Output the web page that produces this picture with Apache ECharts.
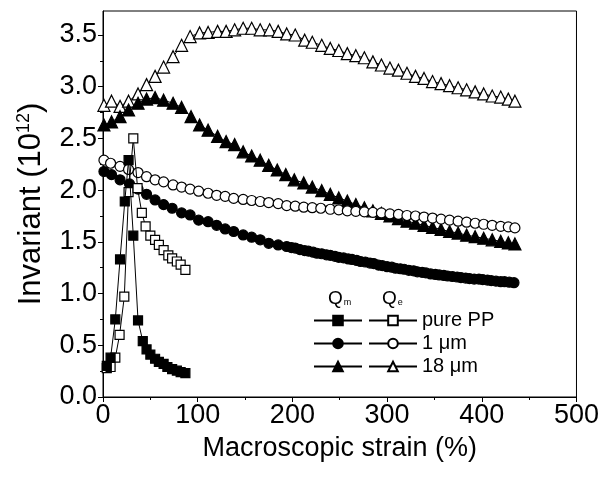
<!DOCTYPE html>
<html><head><meta charset="utf-8">
<script src="https://cdn.jsdelivr.net/npm/echarts@6/dist/echarts.min.js"></script>
<style>html,body{margin:0;padding:0;background:#fff}#c{width:602px;height:477px}</style>
</head><body><div id="c"></div><script>
// ---- data ----
const xTickLabels = [0, 100, 200, 300, 400, 500];
const yTickLabels = [0.0, 0.5, 1.0, 1.5, 2.0, 2.5, 3.0, 3.5];
const legendNames = ['pure PP', '1 \u03bcm', '18 \u03bcm'];

const qmPPx = [4, 8, 13, 18, 23, 27, 32, 37, 42, 46, 50, 55, 59, 64, 68, 73, 78, 82, 87];
const qmPPy = [0.30, 0.38, 0.75, 1.33, 1.89, 2.29, 1.56, 0.74, 0.54, 0.46, 0.41, 0.37, 0.34, 0.32, 0.29, 0.27, 0.255, 0.24, 0.23];

const qePPx = [4, 8, 13, 17.5, 22.5, 27, 32, 36.5, 41, 45, 50, 55, 59, 64, 69, 73, 78, 82, 87];
const qePPy = [0.28, 0.29, 0.38, 0.60, 0.97, 1.98, 2.50, 2.02, 1.78, 1.65, 1.56, 1.52, 1.47, 1.42, 1.37, 1.34, 1.31, 1.28, 1.23];

const qm1x = [1, 9, 18, 28, 37, 46, 55, 64, 73, 83, 92, 101, 111, 120, 129, 138, 148, 157, 166, 175, 185, 194,
  199, 203, 208, 213, 217, 222, 226, 231, 236, 240, 245, 249, 254, 259, 263, 268, 272, 277, 282, 286, 291, 295,
  300, 305, 309, 314, 318, 323, 328, 332, 337, 341, 346, 351, 355, 360, 364, 369, 374, 378, 383, 387, 392, 397,
  401, 406, 410, 415, 420, 424, 429, 434];
const qm1y = [2.18, 2.15, 2.10, 2.06, 2.01, 1.96, 1.905, 1.86, 1.825, 1.78, 1.76, 1.71, 1.695, 1.66, 1.625, 1.60, 1.567, 1.545, 1.52, 1.486, 1.47, 1.455,
  1.445, 1.44, 1.425, 1.415, 1.41, 1.40, 1.39, 1.385, 1.375, 1.37, 1.36, 1.35, 1.345, 1.335, 1.33, 1.32, 1.31, 1.305, 1.295, 1.29, 1.275, 1.27,
  1.26, 1.255, 1.245, 1.24, 1.235, 1.225, 1.22, 1.21, 1.205, 1.20, 1.19, 1.185, 1.18, 1.175, 1.17, 1.165, 1.16, 1.155, 1.15, 1.145, 1.14, 1.14,
  1.135, 1.13, 1.125, 1.12, 1.115, 1.115, 1.11, 1.105];

const qe1x = [1, 8, 18, 27, 37, 46, 55, 64, 74, 83, 92, 101, 111, 120, 129, 138, 148, 157, 166, 175, 185, 194, 203, 212, 221, 230,
  240, 249, 258, 267, 276, 285, 294, 303, 312, 321, 330, 339, 348, 357, 366, 375, 384, 393, 402, 411, 420, 428, 435];
const qe1y = [2.29, 2.26, 2.23, 2.20, 2.17, 2.13, 2.10, 2.08, 2.05, 2.03, 2.01, 1.99, 1.97, 1.95, 1.94, 1.92, 1.91, 1.90, 1.89, 1.88, 1.87, 1.85, 1.845, 1.835, 1.83, 1.825,
  1.815, 1.81, 1.80, 1.795, 1.79, 1.785, 1.78, 1.77, 1.765, 1.755, 1.75, 1.74, 1.73, 1.72, 1.71, 1.70, 1.69, 1.68, 1.67, 1.66, 1.65, 1.645, 1.635];

const qm18x = [1, 9, 18, 27, 37, 46, 55, 64, 74, 83, 93, 102, 111, 121, 130, 139, 148, 157, 166, 175, 184, 193, 202, 212, 221, 231,
  240, 249, 258, 267, 276, 285, 294, 303, 312, 321, 330, 339, 348, 357, 366, 375, 384, 393, 402, 411, 420, 428, 435];
const qm18y = [2.63, 2.66, 2.71, 2.775, 2.84, 2.88, 2.895, 2.87, 2.84, 2.80, 2.71, 2.63, 2.58, 2.52, 2.47, 2.44, 2.37, 2.33, 2.29, 2.24, 2.195, 2.15, 2.10, 2.07, 2.03, 1.995,
  1.96, 1.925, 1.895, 1.86, 1.83, 1.80, 1.775, 1.75, 1.725, 1.70, 1.68, 1.66, 1.64, 1.62, 1.60, 1.585, 1.565, 1.55, 1.535, 1.52, 1.505, 1.49, 1.48];

const qe18x = [1, 9, 18, 27, 37, 46, 55, 64, 74, 83, 92, 102, 111, 121, 130, 139, 148, 157, 166, 176, 185, 194, 203, 213, 221, 231,
  240, 249, 258, 267, 276, 285, 294, 303, 312, 321, 330, 339, 348, 357, 366, 375, 384, 393, 402, 411, 420, 428, 435];
const qe18y = [2.82, 2.86, 2.81, 2.86, 2.93, 3.02, 3.10, 3.19, 3.29, 3.40, 3.485, 3.52, 3.525, 3.535, 3.535, 3.55, 3.565, 3.565, 3.55, 3.55, 3.535, 3.51, 3.50, 3.45, 3.43, 3.40,
  3.37, 3.35, 3.32, 3.30, 3.28, 3.24, 3.21, 3.18, 3.16, 3.13, 3.10, 3.08, 3.05, 3.03, 3.01, 2.99, 2.97, 2.95, 2.93, 2.91, 2.90, 2.88, 2.86];

// ---- chart ----
const FONT = '"Liberation Sans", Arial, Helvetica, sans-serif';
const chart = echarts.init(document.getElementById('c'), null, {renderer: 'canvas'});
function pairs(xs, ys) { return xs.map((x, i) => [x, ys[i]]); }
function mk(name, xs, ys, symbol, filled, size, z) {
  return {
    name: name, type: 'line', xAxisIndex: 0, yAxisIndex: 0,
    data: pairs(xs, ys), symbol: symbol, symbolSize: size, showSymbol: true,
    lineStyle: {color: '#000', width: 1},
    itemStyle: {color: filled ? '#000' : '#fff', borderColor: '#000', borderWidth: 1.2},
    emphasis: {disabled: true}, silent: true, animation: false, z: z
  };
}
const isTick = (v, list) => list.some(t => Math.abs(t - v) < 1e-6);

chart.setOption({
  backgroundColor: '#fff',
  animation: false,
  textStyle: {fontFamily: FONT},
  grid: [
    {left: 103, right: 24, top: 11, bottom: 80, show: true, borderColor: '#000', borderWidth: 1, backgroundColor: 'transparent'},
    {left: 103, right: 24, top: 35, bottom: 80, show: false}
  ],
  xAxis: [
    {type: 'value', gridIndex: 0, min: 0, max: 500, interval: 100,
     axisLine: {onZero: false, lineStyle: {color: '#000', width: 1}},
     axisTick: {show: true, length: 5, lineStyle: {color: '#000'}},
     minorTick: {show: true, splitNumber: 2, length: 3, lineStyle: {color: '#000'}},
     splitLine: {show: false},
     axisLabel: {color: '#000', fontSize: 27, fontFamily: FONT, margin: 5,
       formatter: v => isTick(v, xTickLabels) ? String(v) : ''},
     name: 'Macroscopic strain (%)', nameLocation: 'middle', nameGap: 38,
     nameTextStyle: {color: '#000', fontSize: 27, fontFamily: FONT}},
    {type: 'value', gridIndex: 1, min: 0, max: 500, show: false}
  ],
  yAxis: [
    {type: 'value', gridIndex: 0, min: 0, max: 3.732,
     axisLine: {onZero: false, lineStyle: {color: '#000', width: 1}},
     axisTick: {show: false}, axisLabel: {show: false}, splitLine: {show: false},
     name: 'Invariant (10{sup|12})', nameLocation: 'middle', nameGap: 56, nameRotate: 90,
     nameTextStyle: {color: '#000', fontSize: 31, fontFamily: FONT,
       rich: {sup: {fontSize: 18, fontFamily: FONT, color: '#000', padding: [0, 0, 14, 0]}}}},
    {type: 'value', gridIndex: 1, min: 0, max: 3.5, interval: 0.5,
     axisLine: {show: false}, splitLine: {show: false},
     axisTick: {show: true, length: 5, lineStyle: {color: '#000'}},
     minorTick: {show: true, splitNumber: 2, length: 3, lineStyle: {color: '#000'}},
     axisLabel: {color: '#000', fontSize: 27, fontFamily: FONT, margin: 6,
       formatter: v => isTick(v, yTickLabels) ? v.toFixed(1) : ''}}
  ],
  legend: [
    {data: ['Qm pure PP', 'Qm 1', 'Qm 18'], orient: 'vertical', left: 313, top: 309,
     itemWidth: 48, itemHeight: 12, itemGap: 0, padding: 0, selectedMode: false,
     formatter: () => ' ', textStyle: {fontSize: 20, lineHeight: 23, fontFamily: FONT}},
    {data: legendNames, orient: 'vertical', left: 368, top: 309,
     itemWidth: 48, itemHeight: 12, itemGap: 0, padding: 0, selectedMode: false,
     textStyle: {color: '#000', fontSize: 20, lineHeight: 23, fontFamily: FONT}}
  ],
  graphic: [
    {type: 'text', left: 328, top: 289, silent: true,
     style: {text: 'Q{s|m}', font: '19px ' + FONT, fill: '#000',
       rich: {s: {fontSize: 9, fontFamily: FONT, fill: '#000', padding: [9, 0, 0, 1]}}}},
    {type: 'text', left: 382, top: 289, silent: true,
     style: {text: 'Q{s|e}', font: '19px ' + FONT, fill: '#000',
       rich: {s: {fontSize: 9, fontFamily: FONT, fill: '#000', padding: [9, 0, 0, 1]}}}}
  ],
  series: [
    mk('18 \u03bcm', qe18x, qe18y, 'triangle', false, 12, 2),
    mk('Qm 18', qm18x, qm18y, 'triangle', true, 12, 3),
    mk('1 \u03bcm', qe1x, qe1y, 'circle', false, 10, 4),
    mk('Qm 1', qm1x, qm1y, 'circle', true, 10, 5),
    mk('pure PP', qePPx, qePPy, 'rect', false, 9, 6),
    mk('Qm pure PP', qmPPx, qmPPy, 'rect', true, 9, 7)
  ]
});
</script></body></html>
